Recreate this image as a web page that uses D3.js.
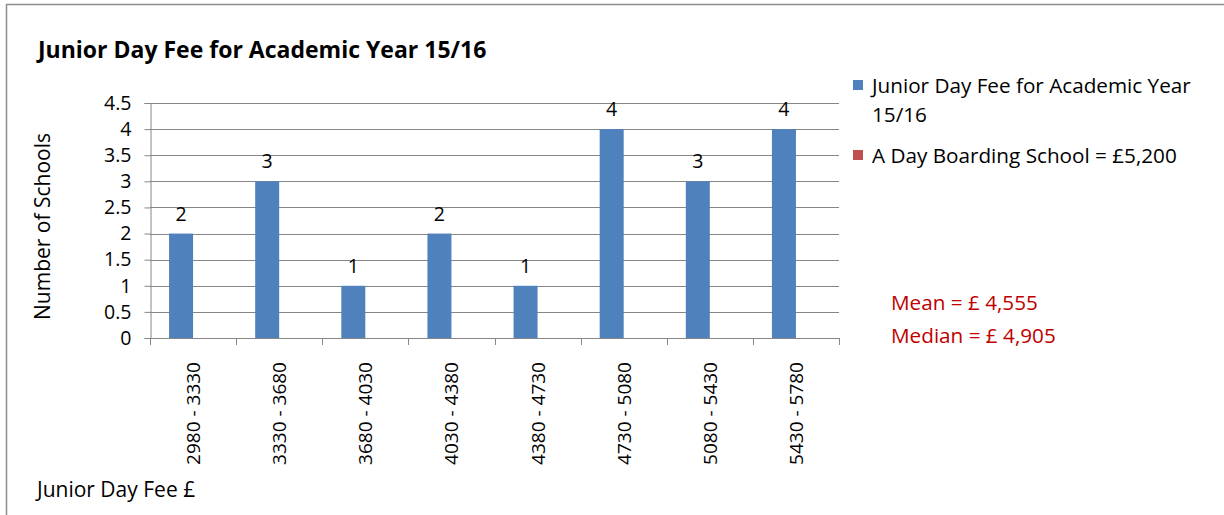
<!DOCTYPE html>
<html>
<head>
<meta charset="utf-8">
<title>Junior Day Fee</title>
<script src="https://cdn.jsdelivr.net/npm/d3@7/dist/d3.min.js"></script>
<style>
body { margin:0; background:#fff; }
text { font-family: "Open Sans", sans-serif; }
</style>
</head>
<body>
<svg id="chart" width="1224" height="515"></svg>
<script>
var categories = ["2980 - 3330","3330 - 3680","3680 - 4030","4030 - 4380","4380 - 4730","4730 - 5080","5080 - 5430","5430 - 5780"];
var feeCounts = [2,3,1,2,1,4,3,4];
var boardingCounts = [0,0,0,0,0,0,0,0];
var yTicks = [0,0.5,1,1.5,2,2.5,3,3.5,4,4.5];
var seriesNames = ["Junior Day Fee for Academic Year", "A Day Boarding School = £5,200"];
var statLines = ["Mean = £ 4,555", "Median = £ 4,905"];

var svg = d3.select("#chart");
var axisGrey = "#868686";

// outer chart frame (right/bottom edges run off the picture)
svg.append("rect").attr("x",6.5).attr("y",4.5).attr("width",1230).attr("height",530)
	.attr("fill","none").attr("stroke","#8c8c8c").attr("stroke-width",1.5);

var plotLeft = 150, plotRight = 839, plotTop = 103, plotBottom = 338;

var x = d3.scaleBand().domain(categories).range([plotLeft,plotRight]);
var y = d3.scaleLinear().domain([0,4.5]).range([plotBottom,plotTop]);
var barW = 24;

// gridlines
svg.append("g").selectAll("line").data(yTicks.filter(function(d){return d>0;})).enter()
	.append("line")
	.attr("x1",plotLeft).attr("x2",plotRight)
	.attr("y1",function(d){return Math.round(y(d))+0.5;})
	.attr("y2",function(d){return Math.round(y(d))+0.5;})
	.attr("stroke",axisGrey).attr("stroke-width",1);

// y axis
var yAxis = d3.axisLeft(y).tickValues(yTicks).tickSize(6).tickPadding(13)
	.tickFormat(function(d){return d;});
var gy = svg.append("g").attr("transform","translate("+(plotLeft+0.5)+",0)").call(yAxis);
gy.selectAll("path,line").attr("stroke",axisGrey);
gy.selectAll("text").attr("font-size",19.5).attr("fill","#000").attr("font-family","Open Sans");

// x axis line and boundary ticks
svg.append("line").attr("x1",plotLeft).attr("x2",plotRight)
	.attr("y1",plotBottom+0.5).attr("y2",plotBottom+0.5).attr("stroke",axisGrey);
var bounds = categories.map(function(c){return x(c);}).concat([plotRight]);
svg.append("g").selectAll("line").data(bounds).enter().append("line")
	.attr("x1",function(d){return Math.round(d)+0.5;})
	.attr("x2",function(d){return Math.round(d)+0.5;})
	.attr("y1",plotBottom).attr("y2",plotBottom+7).attr("stroke",axisGrey);

// x tick labels (rotated)
svg.append("g").selectAll("text").data(categories).enter().append("text")
	.attr("transform",function(d){return "translate("+(x(d)+x.bandwidth()/2+7)+","+(plotBottom+24)+") rotate(-90)";})
	.attr("text-anchor","end").attr("font-size",19).attr("fill","#000")
	.text(function(d){return d;});

// bars
svg.append("g").selectAll("rect").data(feeCounts).enter().append("rect")
	.attr("x",function(d,i){return x(categories[i])+x.bandwidth()/2-barW;})
	.attr("y",function(d){return y(d);})
	.attr("width",barW)
	.attr("height",function(d){return plotBottom-y(d);})
	.attr("fill","#4f81bd");
svg.append("g").selectAll("rect").data(boardingCounts).enter().append("rect")
	.attr("x",function(d,i){return x(categories[i])+x.bandwidth()/2;})
	.attr("y",function(d){return y(d);})
	.attr("width",barW)
	.attr("height",function(d){return plotBottom-y(d);})
	.attr("fill","#c0504d");

// data labels
svg.append("g").selectAll("text").data(feeCounts).enter().append("text")
	.attr("x",function(d,i){return x(categories[i])+x.bandwidth()/2-barW/2;})
	.attr("y",function(d){return y(d)-13;})
	.attr("text-anchor","middle").attr("font-size",19.5).attr("fill","#000")
	.text(function(d){return d;});

// titles
svg.append("text").attr("x",38).attr("y",58).attr("font-size",23).attr("font-weight","bold")
	.attr("fill","#000").text("Junior Day Fee for Academic Year 15/16");
svg.append("text").attr("transform","translate(50,"+((plotTop+plotBottom)/2+6)+") rotate(-90)")
	.attr("text-anchor","middle").attr("font-size",21).attr("fill","#000").text("Number of Schools");
svg.append("text").attr("x",37).attr("y",497).attr("font-size",21).attr("fill","#000").text("Junior Day Fee £");

// legend
var lg = svg.append("g");
lg.append("rect").attr("x",853).attr("y",80).attr("width",10).attr("height",10).attr("fill","#4f81bd");
lg.append("text").attr("x",872).attr("y",93).attr("font-size",20.7).attr("fill","#000").text(seriesNames[0]);
lg.append("text").attr("x",872).attr("y",122).attr("font-size",20.7).attr("fill","#000").text("15/16");
lg.append("rect").attr("x",853).attr("y",150).attr("width",10).attr("height",10).attr("fill","#c0504d");
lg.append("text").attr("x",872).attr("y",163).attr("font-size",20.7).attr("fill","#000").text(seriesNames[1]);

// stats
svg.append("g").selectAll("text").data(statLines).enter().append("text")
	.attr("x",891).attr("y",function(d,i){return 310+i*33;})
	.attr("font-size",20.7).attr("fill","#c00000").text(function(d){return d;});
</script>
</body>
</html>
